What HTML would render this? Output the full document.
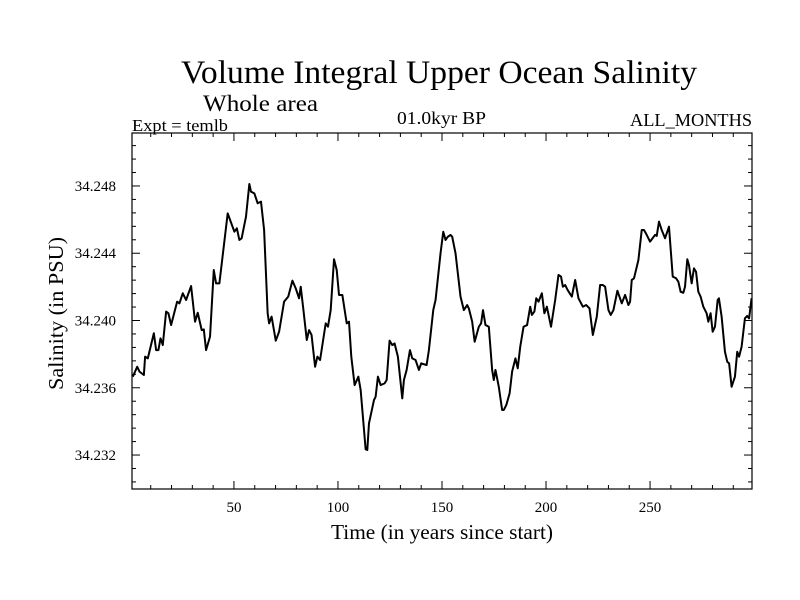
<!DOCTYPE html>
<html><head><meta charset="utf-8"><style>
html,body{margin:0;padding:0;background:#fff;}
svg{display:block;font-family:"Liberation Serif",serif;}
</style></head><body>
<svg id="chart" width="800" height="600" viewBox="0 0 800 600">
<text x="181" y="83" font-size="33" textLength="516" lengthAdjust="spacingAndGlyphs">Volume Integral Upper Ocean Salinity</text>
<text x="203" y="111" font-size="23" textLength="115" lengthAdjust="spacingAndGlyphs">Whole area</text>
<text x="132" y="131" font-size="17" textLength="96" lengthAdjust="spacingAndGlyphs">Expt = temlb</text>
<text x="397" y="124" font-size="18" textLength="89" lengthAdjust="spacingAndGlyphs">01.0kyr BP</text>
<text x="630" y="126" font-size="18" textLength="122" lengthAdjust="spacingAndGlyphs">ALL_MONTHS</text>
<text x="331" y="539" font-size="21" textLength="222" lengthAdjust="spacingAndGlyphs">Time (in years since start)</text>
<text transform="translate(63,390) rotate(-90)" font-size="21" textLength="153" lengthAdjust="spacingAndGlyphs">Salinity (in PSU)</text>
<g id="axes"></g>
<g id="series"></g>
<rect x="132" y="133" width="620" height="356" fill="none" stroke="#000" stroke-width="1.2"/>
</svg>
<script>
const years = [1.4,3.5,4.6,6.7,7.3,8.6,11.5,12.6,13.7,14.7,15.8,17.4,18.5,19.8,22.7,23.8,25.4,27.0,29.4,31.3,32.6,34.5,35.5,36.6,38.5,40.3,41.4,43.0,47.0,50.2,51.4,52.6,53.7,55.8,57.4,58.2,59.8,61.4,63.0,64.5,66.2,66.9,68.1,70.1,71.7,74.1,76.1,78.1,79.7,81.3,82.1,83.4,85.0,86.1,87.3,89.0,90.1,91.4,94.1,95.2,96.5,98.1,99.4,100.5,102.1,104.2,105.3,106.4,108.0,109.8,110.9,113.3,114.1,114.9,117.3,118.1,119.2,120.5,122.4,123.4,124.8,126.1,127.2,128.8,130.9,131.7,133.0,134.6,135.7,137.3,138.9,140.0,142.6,143.7,145.8,146.9,149.3,150.6,151.7,152.8,154.1,154.9,156.5,158.9,160.5,162.1,162.9,164.5,165.7,167.7,168.8,169.7,170.9,172.5,174.1,174.9,175.7,177.3,178.9,179.7,180.9,182.5,183.7,185.3,186.4,187.6,189.2,190.9,192.4,193.2,194.4,195.3,196.4,198.0,199.2,200.4,202.4,204.4,206.0,207.2,208.1,209.2,210.4,212.4,214.0,215.6,217.7,219.3,220.9,222.5,224.4,226.0,227.3,228.4,230.0,231.1,232.4,234.3,236.4,238.0,239.6,240.4,241.2,242.3,244.4,246.0,247.1,248.4,250.0,252.4,253.2,254.3,255.6,257.2,259.1,260.9,262.5,263.6,264.7,266.0,266.8,267.9,268.7,270.0,271.1,272.1,273.2,274.3,275.6,277.2,278.0,279.1,280.1,281.2,282.5,283.1,284.4,286.0,287.1,288.0,289.2,290.8,291.9,292.8,294.0,295.6,296.7,297.6,298.8];
const salinity = [34.23666,34.23725,34.23696,34.23676,34.23785,34.23775,34.23924,34.23824,34.23824,34.23894,34.23854,34.24053,34.24043,34.23973,34.24112,34.24102,34.24162,34.24122,34.24205,34.23993,34.24046,34.23943,34.23947,34.23824,34.23904,34.2430,34.24221,34.24221,34.24637,34.24528,34.24548,34.24479,34.24489,34.24618,34.24812,34.24766,34.24756,34.24697,34.24707,34.24538,34.24043,34.23983,34.24023,34.2388,34.23933,34.24112,34.24142,34.24237,34.24191,34.24132,34.24201,34.24062,34.23884,34.23943,34.23914,34.23725,34.23785,34.23765,34.23983,34.23963,34.24062,34.24364,34.2430,34.24152,34.24152,34.23983,34.23993,34.23785,34.23616,34.23666,34.23587,34.23234,34.2323,34.23388,34.23527,34.23547,34.23666,34.23616,34.23626,34.23646,34.2388,34.23854,34.23864,34.23785,34.23537,34.23646,34.23706,34.23824,34.23775,34.23765,34.23706,34.23745,34.23735,34.23824,34.24062,34.24122,34.244,34.24528,34.24479,34.24498,34.24509,34.24498,34.244,34.24142,34.24062,34.24092,34.24072,34.23993,34.23874,34.23963,34.23983,34.24062,34.23973,34.23963,34.23706,34.23646,34.23706,34.23606,34.23468,34.23468,34.23497,34.23567,34.23696,34.23775,34.23716,34.23844,34.23963,34.23973,34.24082,34.24033,34.24053,34.24132,34.24112,34.24162,34.24043,34.24082,34.23963,34.24122,34.24271,34.24261,34.24201,34.24211,34.24181,34.24142,34.24241,34.24132,34.24082,34.24092,34.24072,34.23914,34.24023,34.24211,34.24211,34.24201,34.24062,34.24033,34.24062,34.24177,34.24102,34.24152,34.24092,34.24112,34.24241,34.24251,34.2436,34.24538,34.24538,34.24509,34.24469,34.24509,34.24503,34.24588,34.24538,34.24489,34.24558,34.24261,34.24251,34.24231,34.24171,34.24165,34.24201,34.24364,34.2433,34.24221,34.2431,34.2429,34.24171,34.24142,34.24082,34.24043,34.23993,34.24043,34.23933,34.23963,34.24122,34.24132,34.24023,34.23814,34.23755,34.23745,34.23606,34.23666,34.23814,34.23785,34.23844,34.24013,34.24027,34.24013,34.24132];
const xTicks = [50,100,150,200,250];
const xTickLabels = ["50","100","150","200","250"];
const yTicks = [34.232,34.236,34.240,34.244,34.248];
const yTickLabels = ["34.232","34.236","34.240","34.244","34.248"];

const X0=132,X1=752,Y0=489,Y1=133;
const xMin=1,xMax=299,yMin=34.22998,yMax=34.25115;
function sx(v){return X0+(v-xMin)/(xMax-xMin)*(X1-X0);}
function sy(v){return Y0-(v-yMin)/(yMax-yMin)*(Y0-Y1);}
const NS="http://www.w3.org/2000/svg";
const axes=document.getElementById('axes');
function line(x1,y1,x2,y2,name){
  const l=document.createElementNS(NS,'line');
  l.setAttribute('x1',x1);l.setAttribute('y1',y1);l.setAttribute('x2',x2);l.setAttribute('y2',y2);
  l.setAttribute('stroke','#000');l.setAttribute('stroke-width','1');
  
  
  axes.appendChild(l);
}
function text(x,y,s,anchor,name){
  const t=document.createElementNS(NS,'text');
  t.setAttribute('x',x);t.setAttribute('y',y);t.setAttribute('font-size','15');t.setAttribute('text-anchor',anchor);
  t.textContent=s;
  
  
  axes.appendChild(t);
}
for(let v=10;v<=290;v+=10){
  const major=v%50===0, L=major?8:4, x=sx(v);
  line(x,Y0,x,Y0-L,'x-tick');
  line(x,Y1,x,Y1+L,'x-tick-top');
}
xTicks.forEach((v,i)=>text(sx(v),512,xTickLabels[i],'middle','x-tick-label'));
for(let k=-4;k<=25;k++){
  const v=34.232+k*0.0008;
  if(v<yMin||v>yMax) continue;
  const major=(k%5===0), L=major?8:4, y=sy(v);
  line(X0,y,X0+L,y,'y-tick');
  line(X1,y,X1-L,y,'y-tick-right');
}
yTicks.forEach((v,i)=>text(116,sy(v)+5,yTickLabels[i],'end','y-tick-label'));
const p=document.createElementNS(NS,'path');
let d='';
years.forEach((yr,i)=>{d+=(i?'L':'M')+sx(yr).toFixed(2)+','+sy(salinity[i]).toFixed(2);});
p.setAttribute('d',d);p.setAttribute('fill','none');p.setAttribute('stroke','#000');p.setAttribute('stroke-width','2');p.setAttribute('stroke-linejoin','round');


document.getElementById('series').appendChild(p);
</script>
</body></html>
